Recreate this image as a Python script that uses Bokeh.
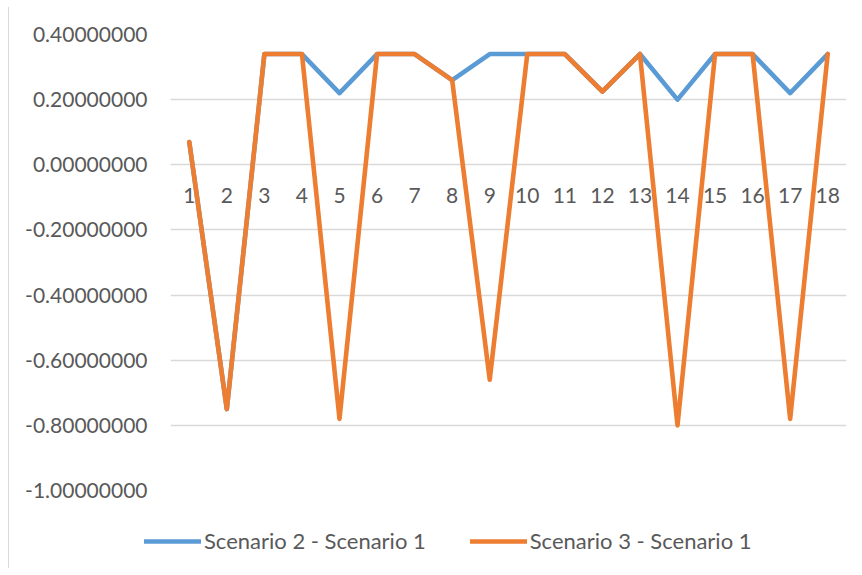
from bokeh.plotting import figure
from bokeh.layouts import column
from bokeh.models import Range1d, FixedTicker, Legend, LegendItem, FactorRange, ColumnDataSource
from bokeh.core.properties import value
from bokeh.embed import file_html
from bokeh.resources import INLINE

categories = ["1", "2", "3", "4", "5", "6", "7", "8", "9", "10",
              "11", "12", "13", "14", "15", "16", "17", "18"]
scenario_2_minus_1 = [0.07, -0.75, 0.34, 0.34, 0.22, 0.34, 0.34, 0.26, 0.34,
                      0.34, 0.34, 0.225, 0.34, 0.20, 0.34, 0.34, 0.22, 0.34]
scenario_3_minus_1 = [0.07, -0.75, 0.34, 0.34, -0.78, 0.34, 0.34, 0.26, -0.66,
                      0.34, 0.34, 0.225, 0.34, -0.80, 0.34, 0.34, -0.78, 0.34]
series_names = ["Scenario 2 - Scenario 1", "Scenario 3 - Scenario 1"]
y_ticks = [-1.0, -0.8, -0.6, -0.4, -0.2, 0.0, 0.2, 0.4]
y_tick_labels = ["-1.00000000", "-0.80000000", "-0.60000000", "-0.40000000",
                 "-0.20000000", "0.00000000", "0.20000000", "0.40000000"]

FONT = "Lato"
LABEL_COLOR = "#595959"
GRID_COLOR = "#D9D9D9"
BLUE = "#5B9BD5"
ORANGE = "#ED7D31"
LW = 4.6

p = figure(width=845, height=503, output_backend="svg", toolbar_location=None,
           x_range=FactorRange(*categories), y_range=Range1d(-1.0, 0.4),
           min_border_left=161, min_border_right=8, min_border_top=27, min_border_bottom=20)
p.frame_align = False
p.outline_line_color = None
p.background_fill_color = "white"
p.border_fill_color = "white"

p.xaxis.visible = False
p.xgrid.grid_line_color = None

yax = p.yaxis[0]
yax.ticker = FixedTicker(ticks=y_ticks)
yax.major_label_overrides = {t: l for t, l in zip(y_ticks, y_tick_labels)}
yax.axis_line_color = None
yax.major_tick_line_color = None
yax.minor_tick_line_color = None
yax.major_tick_out = 0
yax.major_tick_in = 0
yax.major_label_standoff = 23
yax.major_label_text_font = FONT
yax.major_label_text_font_size = "21px"
yax.major_label_text_color = LABEL_COLOR

p.ygrid.ticker = FixedTicker(ticks=y_ticks)
p.ygrid.grid_line_color = GRID_COLOR
p.ygrid.grid_line_width = 1.5

# category labels sitting on the zero line
label_src = ColumnDataSource(dict(x=categories, y=[0.0 for _ in categories], t=categories))
p.text(x="x", y="y", text="t", source=label_src, text_align="center", text_baseline="middle",
       y_offset=31, text_font=value(FONT), text_font_size="21px", text_color=LABEL_COLOR)

p.line(categories, scenario_2_minus_1, line_color=BLUE, line_width=LW,
       line_join="round", line_cap="round")
p.line(categories, scenario_3_minus_1, line_color=ORANGE, line_width=LW,
       line_join="round", line_cap="round")

# legend strip below the chart (its renderers hold no visible points)
lg = figure(width=845, height=58, output_backend="svg", toolbar_location=None,
            x_range=Range1d(0, 1), y_range=Range1d(0, 1),
            min_border_left=0, min_border_right=0, min_border_top=0, min_border_bottom=0)
lg.frame_align = False
lg.axis.visible = False
lg.grid.grid_line_color = None
lg.outline_line_color = None
lg.background_fill_color = "white"
lg.border_fill_color = "white"
nan = float("nan")
s1 = lg.line([nan], [nan], line_color=BLUE, line_width=LW, line_cap="round")
s2 = lg.line([nan], [nan], line_color=ORANGE, line_width=LW, line_cap="round")
legend = Legend(items=[LegendItem(label=series_names[0], renderers=[s1]),
                       LegendItem(label=series_names[1], renderers=[s2])],
                orientation="horizontal", location=(135, 14),
                glyph_width=57, glyph_height=24, label_height=24, label_standoff=3, spacing=44,
                padding=0, margin=0, border_line_color=None, background_fill_alpha=0,
                label_text_font=FONT, label_text_font_size="22px",
                label_text_color=LABEL_COLOR)
lg.add_layout(legend, "center")

layout = column(p, lg, spacing=0)
layout.styles = {"border-left": "1px solid #D9D9D9", "margin-left": "8px", "margin-top": "7px"}

open("out.html", "w").write(file_html(layout, INLINE))
